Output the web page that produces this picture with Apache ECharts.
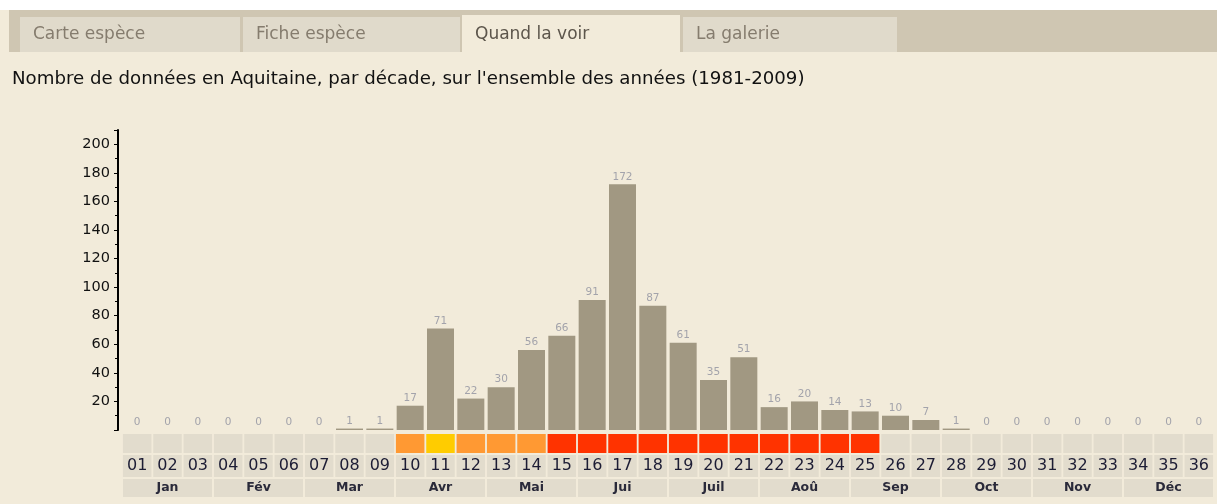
<!DOCTYPE html>
<html>
<head>
<meta charset="utf-8">
<script src="https://cdn.jsdelivr.net/npm/echarts@6/dist/echarts.min.js"></script>
<style>
  html, body { margin: 0; padding: 0; background: #fff; }
  #main { width: 1217px; height: 504px; }
</style>
</head>
<body>
<div id="main"></div>
<script>
  // données par décade
  var decades = ['01','02','03','04','05','06','07','08','09','10','11','12','13','14','15','16','17','18',
                 '19','20','21','22','23','24','25','26','27','28','29','30','31','32','33','34','35','36'];
  var counts = [0,0,0,0,0,0,0,1,1,17,71,22,30,56,66,91,172,87,61,35,51,16,20,14,13,10,7,1,0,0,0,0,0,0,0,0];
  // classe de couleur de la bande (0 rien, 1 orange, 2 jaune, 3 rouge)
  var phase = [0,0,0,0,0,0,0,0,0,1,2,1,1,1,3,3,3,3,3,3,3,3,3,3,3,0,0,0,0,0,0,0,0,0,0,0];
  var months = ['Jan','Fév','Mar','Avr','Mai','Jui','Juil','Aoû','Sep','Oct','Nov','Déc'];
  var yTicks = [20,40,60,80,100,120,140,160,180,200];

  var phaseColors = ['#e2dccd','#ff9933','#ffcc00','#ff3300'];
  var font = 'DejaVu Sans, Verdana, sans-serif';

  var myChart = echarts.init(document.getElementById('main'));

  // onglets
  var tabs = [
    {t:'Carte espèce', x:20, w:220},
    {t:'Fiche espèce', x:243, w:217},
    {t:'Quand la voir', x:462, w:218, on:true},
    {t:'La galerie', x:683, w:214}
  ];
  var g = [
    {type:'rect', shape:{x:0,y:0,width:1217,height:10}, style:{fill:'#fff'}, silent:true},
    {type:'rect', shape:{x:9,y:10,width:1208,height:42}, style:{fill:'#cfc6b2'}, silent:true}
  ];
  tabs.forEach(function(tb){
    g.push({type:'rect', shape:{x:tb.x,y:tb.on?15:17,width:tb.w,height:tb.on?37:35},
      style:{fill:tb.on?'#f2ebda':'#e0dacb'}, silent:true});
    g.push({type:'text', x:tb.x+13, y:35, style:{text:tb.t, font:'17px '+font,
      fill:tb.on?'#5c554b':'#857c6e', textVerticalAlign:'middle'}, silent:true});
  });
  g.push({type:'text', x:12, y:79, style:{text:"Nombre de données en Aquitaine, par décade, sur l'ensemble des années (1981-2009)",
    font:'18.2px '+font, fill:'#111', textVerticalAlign:'middle'}, silent:true});

  var ones36 = decades.map(function(){ return 1; });
  var ones12 = months.map(function(){ return 1; });

  option = {
    backgroundColor:'#f2ebda',
    animation:false,
    graphic:g,
    grid:[
      {left:122, right:3, top:130, height:300},
      {left:122, right:3, top:434, height:19},
      {left:122, right:3, top:455, height:22},
      {left:122, right:3, top:479, height:18}
    ],
    xAxis:[
      {gridIndex:0, type:'category', data:decades, show:false},
      {gridIndex:1, type:'category', data:decades, show:false},
      {gridIndex:2, type:'category', data:decades, show:false},
      {gridIndex:3, type:'category', data:months, show:false}
    ],
    yAxis:[
      {gridIndex:0, type:'value', min:0, max:210, interval:20, offset:4,
        axisLine:{show:true, lineStyle:{color:'#000', width:2}},
        axisTick:{show:true, length:4, lineStyle:{color:'#000', width:1}},
        minorTick:{show:true, splitNumber:2, length:3, lineStyle:{color:'#000'}},
        splitLine:{show:false},
        axisLabel:{color:'#111', fontSize:14.5, fontFamily:font, margin:8,
          formatter:function(v){ return yTicks.indexOf(v) >= 0 ? v : ''; }}},
      {gridIndex:1, type:'value', min:0, max:1, show:false},
      {gridIndex:2, type:'value', min:0, max:1, show:false},
      {gridIndex:3, type:'value', min:0, max:1, show:false}
    ],
    series:[
      {type:'bar', xAxisIndex:0, yAxisIndex:0, data:counts, barWidth:27,
        itemStyle:{color:'#a19882'},
        label:{show:true, position:'top', distance:2, fontSize:10.5, fontFamily:font, color:'#a3a3ab'}},
      {type:'bar', xAxisIndex:1, yAxisIndex:1, barWidth:28.5, silent:true,
        data:ones36.map(function(v,i){ return {value:v, itemStyle:{color:phaseColors[phase[i]]}}; })},
      {type:'bar', xAxisIndex:2, yAxisIndex:2, data:ones36, barWidth:28.5, silent:true,
        itemStyle:{color:'#e2dccd'},
        label:{show:true, position:'inside', formatter:'{b}', fontSize:16, fontFamily:font, color:'#1c1c34'}},
      {type:'bar', xAxisIndex:3, yAxisIndex:3, data:ones12, barWidth:89, silent:true,
        itemStyle:{color:'#e2dccd'},
        label:{show:true, position:'inside', formatter:'{b}', fontSize:12.5, fontWeight:'bold', fontFamily:font, color:'#2a2a3a'}}
    ]
  };
  myChart.setOption(option);
</script>
</body>
</html>
